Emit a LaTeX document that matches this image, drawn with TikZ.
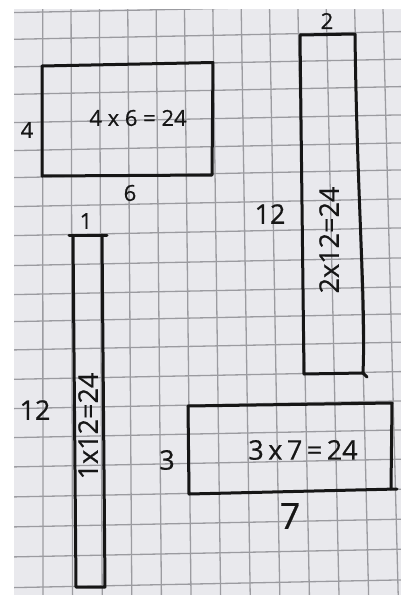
\documentclass[tikz,border=0pt]{standalone}
\usepackage{fontspec}
\setmainfont[FakeBold=0.6]{Open Sans}
\definecolor{paper}{RGB}{233,233,237}
\definecolor{gridgray}{RGB}{155,155,160}
\definecolor{ink}{RGB}{22,22,22}
\begin{document}
\begin{tikzpicture}[x=1pt,y=-1pt,
  gridline/.style={draw=gridgray,line width=1.3pt},
  pen/.style={draw=ink,line width=3pt,line join=round,line cap=round},
  hand/.style={text=ink,inner sep=0pt,font=\fontsize{22}{22}\selectfont},
  bighand/.style={hand,font=\fontsize{27}{27}\selectfont}]
\useasboundingbox (0,0) rectangle (401,595);
\fill[white] (0,0) rectangle (401,595);
\fill[paper] (14,9) rectangle (401,595);
\begin{scope}
  \clip (14,9) rectangle (401,595);
  \foreach \i in {0,...,12}
    \draw[gridline] ({42.7+28.36*\i},9) -- ({43+29.6*\i},595);
  \foreach \y in {10,36.7,64.3,91.7,120,148,175,204,233,263,292,319,347.3,376.7,406,435,464.3,494.3,524.3,554.3,585}
    \draw[gridline] (14,{\y+2.6}) -- (401,{\y-5.1});
\end{scope}
% rectangle 4 x 6
\draw[pen] (42,66) -- (213,62.5) -- (212,175) -- (42,176) -- cycle;
% rectangle 2 x 12
\draw[pen] (300,35) -- (355,34) .. controls (357,200) and (366,300) .. (363,373) -- (304,374) -- cycle;
\draw[pen] (363,373) -- (367,377);
% rectangle 1 x 12
\draw[pen] (69,235) -- (107,235);
\draw[pen] (73,235) -- (76,587) -- (105,587) -- (102,235);
% rectangle 3 x 7
\draw[pen] (188,406) -- (392,403) -- (391,489);
\draw[pen] (188,406) -- (189,494) -- (397,489);
% labels
\node[hand] (l4) at (27,130) {4};
\node[hand] (t46) at (138,118) {4 x 6 = 24};
\node[hand] (l6) at (130,193) {6};
\node[hand] (l2) at (327,21) {2};
\node[bighand] (l12a) at (270,214) {12};
\node[bighand,rotate=90] (t212) at (329,240) {2x12=24};
\node[hand] (l1) at (86,221) {1};
\node[bighand] (l12b) at (35,410) {12};
\node[bighand,rotate=90] (t112) at (88,426) {1x12=24};
\node[bighand] (l3) at (167,460) {3};
\node[bighand] (t37) at (303,450) {3\,x\,7\,=\,24};
\node[hand,font=\fontsize{36}{36}\selectfont] (l7) at (290,516) {7};
\end{tikzpicture}
\end{document}
